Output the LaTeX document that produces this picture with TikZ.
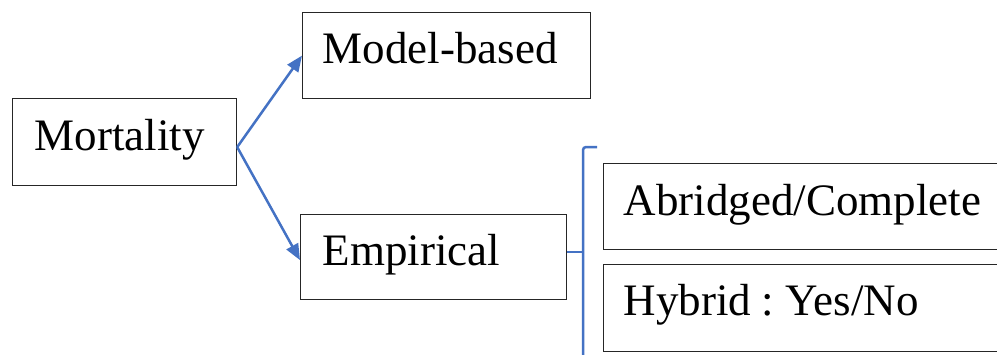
\documentclass[tikz,border=0pt]{standalone}
\usepackage{fontspec}
\setmainfont{Liberation Serif}
\usetikzlibrary{arrows.meta,calc}
\definecolor{arrowblue}{HTML}{4472C4}
\tikzset{
  box/.style={draw=black!85, line width=1.2pt, rectangle, inner ysep=0pt, align=left,
    font=\fontsize{45}{54}\selectfont, anchor=north west},
  conn/.style={draw=arrowblue, line width=2.5pt, -{Triangle[length=16pt,width=13pt]}},
  bracestyle/.style={draw=arrowblue, line width=2.5pt, rounded corners=3pt}
}
\begin{document}
\begin{tikzpicture}[x=1pt,y=-1pt]
\clip (0,0) rectangle (997,354);
\fill[white] (0,0) rectangle (997,354);
\node[box, inner xsep=22pt, text width=180pt, text height=52pt, text depth=35pt] (mort) at (12,98) {Mortality};
\node[box, inner xsep=20pt, text width=248pt, text height=51pt, text depth=35pt] (model) at (302,12) {Model-based};
\node[box, inner xsep=22pt, text width=222pt, text height=51pt, text depth=34pt] (emp) at (300,214) {Empirical};
\node[box, inner xsep=20pt, text width=365pt, text height=52pt, text depth=34pt] (abr) at (603,163) {Abridged/Complete};
\node[box, inner xsep=20pt, text width=365pt, text height=51pt, text depth=36pt] (hyb) at (603,264) {Hybrid\hspace{10pt}:\hspace{12pt}Yes/No};
\coordinate (start) at ($(mort.east)+(0,5)$);
\draw[conn] (start) -- (model.west);
\draw[conn] (start) -- ($(emp.west)+(0,3)$);
\coordinate (btop) at (597,147);
\coordinate (bmid) at (583,252);
\coordinate (bbot) at (583,370);
\draw[bracestyle] (btop) -- (583,147) -- (bmid) -- (bbot);
\draw[bracestyle] (emp.east |- bmid) -- (bmid);
\end{tikzpicture}
\end{document}
